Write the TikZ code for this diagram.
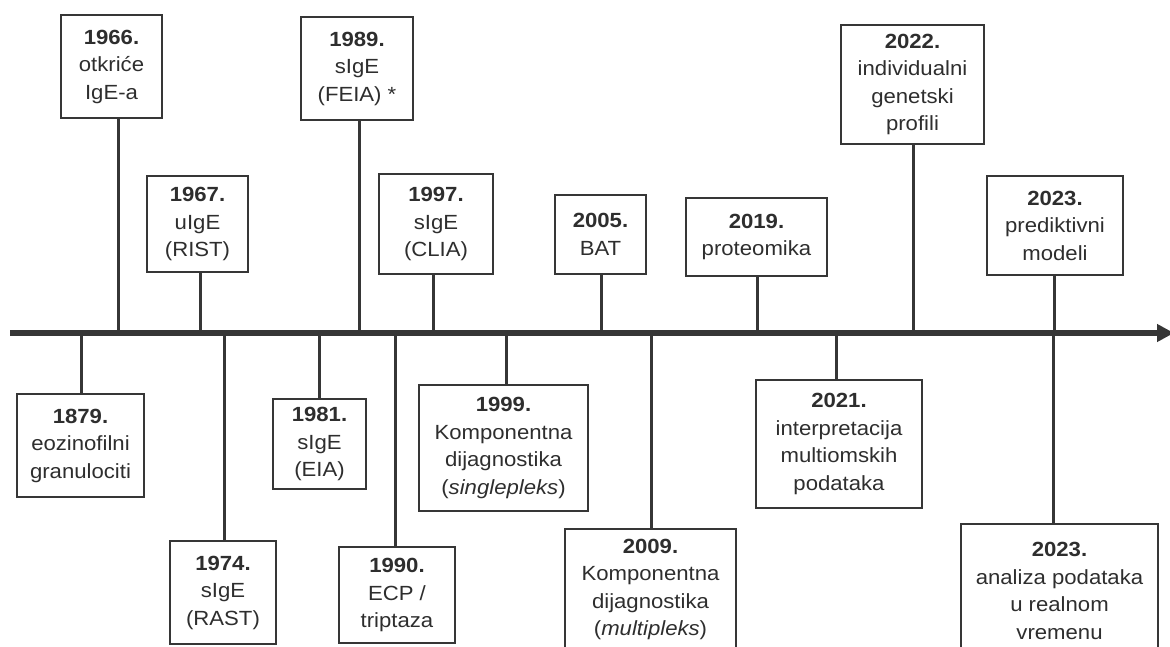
\documentclass[tikz,border=0pt]{standalone}
\usepackage{fontspec}
\setmainfont{Liberation Sans}[FakeStretch=1.08]
\usetikzlibrary{arrows.meta}
\definecolor{linec}{HTML}{363636}
\definecolor{textc}{HTML}{2E2E2E}
\newcommand{\boxfont}{\fontsize{20.5}{27.5}\selectfont}
\tikzset{
  evbox/.style={draw=linec, line width=2pt, fill=white, align=center, inner sep=0pt,
    text=textc, font=\boxfont},
  stemline/.style={draw=linec, line width=3pt},
  axisline/.style={draw=linec, line width=6pt, -{Triangle[length=17pt,width=17pt]}}
}
\begin{document}
\begin{tikzpicture}[x=1pt,y=-1pt]
\useasboundingbox (0,0) rectangle (1170,647);
\clip (0,0) rectangle (1170,647);
% axis
\coordinate (axL) at (10,333);
\coordinate (axR) at (1174,333);
% axis points
\coordinate (a1966) at (118,333);
\coordinate (a1967) at (200,333);
\coordinate (a1989) at (359,333);
\coordinate (a1997) at (433,333);
\coordinate (a2005) at (601,333);
\coordinate (a2019) at (757,333);
\coordinate (a2022) at (913,333);
\coordinate (a2023a) at (1054,333);
\coordinate (a1879) at (81,333);
\coordinate (a1974) at (224,333);
\coordinate (a1981) at (319,333);
\coordinate (a1990) at (395,333);
\coordinate (a1999) at (506,333);
\coordinate (a2009) at (651,333);
\coordinate (a2021) at (836,333);
\coordinate (a2023b) at (1053,333);
% top boxes
\node[evbox, minimum width=101, minimum height=103] (n1966) at (111.5,66.5) {\textbf{1966.}\\otkriće\\IgE-a};
\node[evbox, minimum width=101, minimum height=96] (n1967) at (197.5,224) {\textbf{1967.}\\uIgE\\(RIST)};
\node[evbox, minimum width=112, minimum height=103] (n1989) at (357,68.5) {\textbf{1989.}\\sIgE\\(FEIA) *};
\node[evbox, minimum width=114, minimum height=100] (n1997) at (436,224) {\textbf{1997.}\\sIgE\\(CLIA)};
\node[evbox, minimum width=91, minimum height=79] (n2005) at (600.5,234.5) {\textbf{2005.}\\BAT};
\node[evbox, minimum width=141, minimum height=78] (n2019) at (756.5,237) {\textbf{2019.}\\proteomika};
\node[evbox, minimum width=143, minimum height=119] (n2022) at (912.5,84.5) {\textbf{2022.}\\individualni\\genetski\\profili};
\node[evbox, minimum width=136, minimum height=99] (n2023a) at (1055,225.5) {\textbf{2023.}\\prediktivni\\modeli};
% bottom boxes
\node[evbox, minimum width=127, minimum height=103] (n1879) at (80.5,445.5) {\textbf{1879.}\\eozinofilni\\granulociti};
\node[evbox, minimum width=106, minimum height=103] (n1974) at (223,592.5) {\textbf{1974.}\\sIgE\\(RAST)};
\node[evbox, minimum width=93, minimum height=90] (n1981) at (319.5,444) {\textbf{1981.}\\sIgE\\(EIA)};
\node[evbox, minimum width=116, minimum height=96] (n1990) at (397,595) {\textbf{1990.}\\ECP /\\triptaza};
\node[evbox, minimum width=169, minimum height=126] (n1999) at (503.5,448) {\textbf{1999.}\\Komponentna\\dijagnostika\\(\textit{singlepleks})};
\node[evbox, minimum width=171, minimum height=121] (n2009) at (650.5,589.5) {\textbf{2009.}\\Komponentna\\dijagnostika\\(\textit{multipleks})};
\node[evbox, minimum width=166, minimum height=128] (n2021) at (839,444) {\textbf{2021.}\\interpretacija\\multiomskih\\podataka};
\node[evbox, minimum width=197, minimum height=134] (n2023b) at (1059.5,591) {\textbf{2023.}\\analiza podataka\\u realnom\\vremenu};
% stems
\foreach \n in {1966,1967,1989,1997,2005,2019,2022,2023a}{
  \draw[stemline] (a\n |- n\n.south) -- (a\n);
}
\foreach \n in {1879,1974,1981,1990,1999,2009,2021,2023b}{
  \draw[stemline] (a\n) -- (a\n |- n\n.north);
}
% axis
\draw[axisline] (axL) -- (axR);
\end{tikzpicture}
\end{document}
